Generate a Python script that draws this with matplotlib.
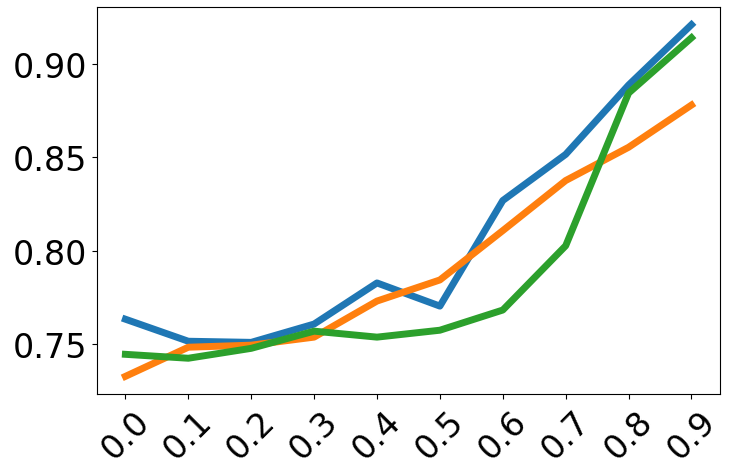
import matplotlib
matplotlib.use('Agg')
import matplotlib.pyplot as plt

x = [0.0, 0.1, 0.2, 0.3, 0.4, 0.5, 0.6, 0.7, 0.8, 0.9]
blue = [0.7634, 0.7516, 0.7510, 0.7608, 0.7828, 0.7704, 0.8269, 0.8516, 0.8887, 0.9210]
orange = [0.7328, 0.7484, 0.7495, 0.7538, 0.7731, 0.7844, 0.8108, 0.8376, 0.8554, 0.8780]
green = [0.7446, 0.7425, 0.7478, 0.7570, 0.7538, 0.7575, 0.7683, 0.8027, 0.8844, 0.9140]

fig = plt.figure(figsize=(7.3, 4.77), dpi=100)
ax = fig.add_axes([0.133, 0.172, 0.853, 0.811])
ax.plot(x, blue, lw=5)
ax.plot(x, orange, lw=5)
ax.plot(x, green, lw=5)

ax.set_xticks(x)
ax.set_xticklabels([f"{v:.1f}" for v in x], rotation=45)
ax.set_yticks([0.75, 0.80, 0.85, 0.90])
ax.tick_params(labelsize=24)

fig.savefig('out.png', dpi=100)
